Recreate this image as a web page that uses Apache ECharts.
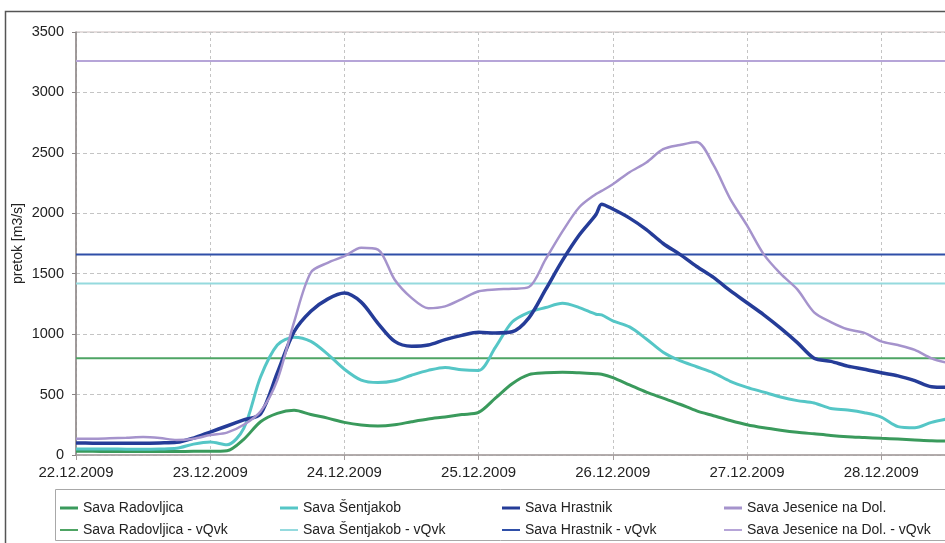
<!DOCTYPE html>
<html>
<head>
<meta charset="utf-8">
<script src="https://cdn.jsdelivr.net/npm/echarts@6/dist/echarts.min.js"></script>
<style>
  html, body { margin: 0; padding: 0; background: #fff; }
  #chart { width: 945px; height: 543px; }
</style>
</head>
<body>
<div id="chart"></div>
<script>
// Day labels on the time axis (one per 24 h)
const dayLabels = ['22.12.2009', '23.12.2009', '24.12.2009', '25.12.2009',
                   '26.12.2009', '27.12.2009', '28.12.2009', '29.12.2009'];

// Hours since 22.12.2009 00:00
const hours = [0,3,6,9,12,15,18,21,24,27,30,33,36,39,42,45,48,51,54,57,60,63,66,69,72,75,78,81,84,87,90,93,
               94,96,99,102,105,108,111,114,117,120,123,126,129,132,135,138,141,144,147,150,153,156];

// Discharge [m3/s] per station
const radovljica = [30,30,28,28,28,28,28,30,30,35, 130,275,345,370,335,305,270,248,240,250,
                    275,298,315,335,352,470,590,665,680,685, 680,672,
                    668,
                    640,580,520,470,420,365,325,285,250,225, 205,188,175,162,152,145,138,132,125,118, 115];
const sentjakob = [50,50,50,48,48,50,55,90,108,85, 220,645,910,975,940,835,710,620,600,615,
                   660,700,725,705,700,890,1100,1180,1220,1255, 1220,1165,
                   1160,
                   1110,1060,960,850,780,730,680,610,560,520, 480,450,430,385,372,350,314,235,225,270, 300];
const hrastnik = [100,98,97,97,98,100,105,140,190,240, 290,340,680,1020,1190,1290,1340,1265,1090,940,
                  900,910,955,990,1015,1010,1020,1135,1370,1610, 1820,1990,
                  2075,
                  2035,1960,1865,1750,1660,1560,1470,1360,1260,1160, 1050,930,800,775,735,710,680,655,615,565, 560];
const jesenice = [135,135,138,142,148,140,125,135,165,185, 250,360,620,1100,1510,1590,1645,1715,1700,1450,
                  1300,1215,1230,1290,1355,1370,1375,1390,1620,1850, 2050,2160,
                  2185,
                  2240,2340,2420,2530,2565,2590,2400,2120,1900,1660, 1500,1370,1180,1100,1040,1010,940,910,870,800, 760];

// Warning discharge levels (vQvk) per station
const vqvkLevels = [800, 1420, 1660, 3260];

const stationNames = ['Sava Radovljica', 'Sava Šentjakob', 'Sava Hrastnik', 'Sava Jesenice na Dol.'];
const stationFlows = [radovljica, sentjakob, hrastnik, jesenice];
const flowColors = ['#3a9a5c', '#55c6c6', '#253c98', '#a593cc'];
const levelColors = ['#4ea464', '#95dade', '#2f4fa8', '#b6a5d8'];
const flowWidths = [3, 3, 3.5, 2.5];

const FONT = '"Liberation Sans", Arial, sans-serif';
const SPAN = 168; // axis span in hours (7 days)

const chart = echarts.init(document.getElementById('chart'), null, { renderer: 'canvas' });

const series = [];
stationNames.forEach((name, i) => {
  series.push({
    name: name,
    type: 'line',
    color: flowColors[i],
    data: hours.map((h, j) => [h, stationFlows[i][j]]),
    showSymbol: false,
    smooth: 0.3,
    lineStyle: { width: flowWidths[i], color: flowColors[i] },
    z: 3,
    animation: false
  });
});
stationNames.forEach((name, i) => {
  series.push({
    name: name + ' - vQvk',
    type: 'line',
    color: levelColors[i],
    data: [[0, vqvkLevels[i]], [SPAN, vqvkLevels[i]]],
    showSymbol: false,
    lineStyle: { width: 2, color: levelColors[i] },
    z: 2,
    animation: false
  });
});

// Legend laid out as a 4 x 2 table
const legendCols = [60, 280, 502, 724];
const legendRows = [501, 523];
const legends = [];
stationNames.forEach((name, i) => {
  [name, name + ' - vQvk'].forEach((n, r) => {
    legends.push({
      data: [{ name: n, icon: 'rect' }],
      left: legendCols[i],
      top: legendRows[r],
      padding: 0,
      itemWidth: 18,
      itemHeight: r === 0 ? 3 : 2,
      selectedMode: false,
      textStyle: { fontSize: 14, color: '#222', fontFamily: FONT }
    });
  });
});

chart.setOption({
  backgroundColor: '#ffffff',
  animation: false,
  textStyle: { fontFamily: FONT },
  grid: {
    left: 76, top: 32, width: SPAN / 24 * 134.2, height: 423,
    outerBoundsMode: 'none',
    containLabel: false,
    show: true, borderColor: '#cbbcbc', borderWidth: 1, backgroundColor: 'transparent'
  },
  legend: legends,
  xAxis: {
    type: 'value',
    min: 0, max: SPAN, interval: 24,
    axisLine: { show: true, lineStyle: { color: '#a39c9c', width: 1.5 } },
    axisTick: { show: true, length: 5, lineStyle: { color: '#a39c9c' } },
    splitLine: { show: true, lineStyle: { color: '#c4c4c4', type: [3, 3], width: 1 } },
    axisLabel: {
      margin: 10, fontSize: 15, color: '#222', fontFamily: FONT,
      formatter: v => dayLabels[Math.round(v / 24)] || ''
    }
  },
  yAxis: {
    type: 'value',
    min: 0, max: 3500, interval: 500,
    name: 'pretok [m3/s]',
    nameLocation: 'middle',
    nameRotate: 90,
    nameGap: 51,
    nameMoveOverlap: false,
    nameTextStyle: { fontSize: 14, color: '#222', fontFamily: FONT },
    axisLine: { show: true, lineStyle: { color: '#8a8585', width: 1.5 } },
    axisTick: { show: true, length: 4, lineStyle: { color: '#8a8585' } },
    splitLine: { show: true, lineStyle: { color: '#c4c4c4', type: [4, 3], width: 1 } },
    axisLabel: { margin: 12, fontSize: 14.5, color: '#222', fontFamily: FONT, formatter: v => String(v) }
  },
  graphic: [
    {
      type: 'rect', left: 3, top: 9, silent: true,
      shape: { width: 1000, height: 600 },
      style: { fill: null, stroke: '#555', lineWidth: 1.5 }
    },
    {
      type: 'rect', left: 53, top: 487, silent: true,
      shape: { width: 890, height: 51 },
      style: { fill: null, stroke: '#a8a8a8', lineWidth: 1 }
    }
  ],
  series: series
});
</script>
</body>
</html>
